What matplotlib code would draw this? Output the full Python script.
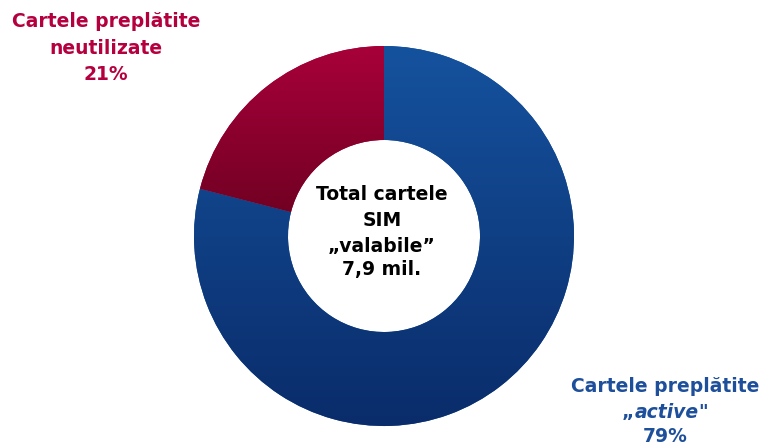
import matplotlib
matplotlib.use("Agg")
import matplotlib.pyplot as plt
import numpy as np
from matplotlib.colors import LinearSegmentedColormap

categories = ["Cartele preplătite „active\"", "Cartele preplătite neutilizate"]
shares = [79, 21]
center_lines = ["Total cartele", "SIM", "„valabile”", "7,9 mil."]

W, H = 762, 444
fig = plt.figure(figsize=(W / 100, H / 100), dpi=100)
ax = fig.add_axes([0, 0, 1, 1])
ax.set_axis_off()

cx, cy = 384, H - 236
R = 190
width = 94

wedges, _ = ax.pie(shares, radius=R, center=(cx, cy), startangle=90,
                   counterclock=False, colors=["#134E99", "#A3003A"],
                   wedgeprops=dict(width=width, linewidth=0), frame=True)

grads = [("#15529E", "#0A2C6A"), ("#A8003A", "#6A0020")]
for w, (ctop, cbot) in zip(wedges, grads):
    path = w.get_path()
    verts = w.get_transform().transform(path.vertices)
    verts = ax.transData.inverted().transform(verts)
    y0, y1 = verts[:, 1].min(), verts[:, 1].max()
    x0, x1 = verts[:, 0].min(), verts[:, 0].max()
    cmap = LinearSegmentedColormap.from_list("g", [cbot, ctop])
    grad = np.linspace(0, 1, 256).reshape(-1, 1)
    im = ax.imshow(grad, extent=[x0, x1, y0, y1], origin="lower", cmap=cmap,
                   aspect="auto", interpolation="bilinear", zorder=2)
    im.set_clip_path(w)

ax.set_xlim(0, W)
ax.set_ylim(0, H)
ax.set_aspect("auto")

fam = "DejaVu Sans"
fs = 13.5
red = "#B5003F"
blue = "#1D4F9B"

# top-left label
for txt, y in zip(["Cartele preplătite", "neutilizate", f"{shares[1]}%"], [22, 49, 75]):
    ax.text(106, H - y, txt, ha="center", va="center", fontsize=fs,
            fontweight="bold", color=red, family=fam)

# center text
for txt, y in zip(center_lines, [195, 221, 246, 270]):
    ax.text(382, H - y, txt, ha="center", va="center", fontsize=fs,
            fontweight="bold", color="black", family=fam, zorder=5)

# bottom-right label
ax.text(665, H - 386, "Cartele preplătite", ha="center", va="center", fontsize=fs,
        fontweight="bold", color=blue, family=fam)
ax.text(665, H - 436, f"{shares[0]}%", ha="center", va="center", fontsize=fs,
        fontweight="bold", color=blue, family=fam)

# mixed style line „active"
fig.canvas.draw()
r = fig.canvas.get_renderer()
parts = [("„", "normal"), ("active", "italic"), ("\"", "normal")]
tmp = []
for s, st in parts:
    t = ax.text(0, 0, s, fontsize=fs, fontweight="bold", style=st, family=fam)
    tmp.append(t.get_window_extent(r).width)
    t.remove()
total = sum(tmp)
x = 665 - total / 2
for (s, st), wd in zip(parts, tmp):
    ax.text(x, H - 412, s, ha="left", va="center", fontsize=fs, fontweight="bold",
            style=st, color=blue, family=fam)
    x += wd

fig.savefig("out.png", dpi=100)
